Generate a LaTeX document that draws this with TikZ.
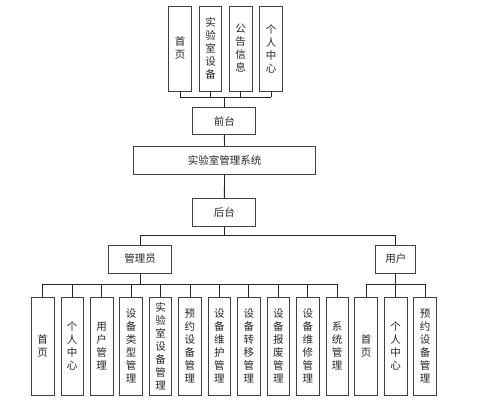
\documentclass[tikz,border=0pt]{standalone}
\usepackage{fontspec}
\setmainfont{Noto Sans CJK SC}
\begin{document}
\begin{tikzpicture}[x=1pt,y=-1pt,
  box/.style={draw=black!75,line width=0.7pt,inner sep=0pt,text=black!85,
    font=\fontsize{10.5}{13}\selectfont,align=center},
  topbox/.style={box,minimum width=22.5pt,minimum height=85pt},
  leafbox/.style={box,minimum width=22.5pt,minimum height=98pt},
  link/.style={draw=black!85,line width=0.8pt}]
  % page
  \path[use as bounding box,fill=white] (0,0) rectangle (499,404);

  % front end modules
  \foreach \x/\name/\txt in {180/f1/{首\\页},
    210.5/f2/{实\\验\\室\\设\\备},
    240.7/f3/{公\\告\\信\\息},
    271/f4/{个\\人\\中\\心}}
  {
    \node[topbox] (\name) at (\x,48.5) {\txt};
  }
  \node[box,minimum width=63pt,minimum height=27.5pt] (front) at (224.3,121) {前台};
  \node[box,minimum width=182pt,minimum height=27.5pt] (sys) at (224.5,160.3) {实验室管理系统};
  \node[box,minimum width=63pt,minimum height=28pt] (back) at (224.3,212.5) {后台};
  \node[box,minimum width=63pt,minimum height=28pt] (admin) at (140,259) {管理员};
  \node[box,minimum width=40pt,minimum height=28pt] (user) at (395.8,259) {用户};

  % admin modules
  \foreach \name/\txt [count=\i] in {a1/{首\\页},
    a2/{个\\人\\中\\心},
    a3/{用\\户\\管\\理},
    a4/{设\\备\\类\\型\\管\\理},
    a5/{实\\验\\室\\设\\备\\管\\理},
    a6/{预\\约\\设\\备\\管\\理},
    a7/{设\\备\\维\\护\\管\\理},
    a8/{设\\备\\转\\移\\管\\理},
    a9/{设\\备\\报\\废\\管\\理},
    a10/{设\\备\\维\\修\\管\\理},
    a11/{系\\统\\管\\理}}
  {
    \node[leafbox] (\name) at ({42.7+29.45*(\i-1)},346) {\txt};
  }

  % user modules
  \foreach \x/\name/\txt in {366/u1/{首\\页},
    395.7/u2/{个\\人\\中\\心},
    425/u3/{预\\约\\设\\备\\管\\理}}
  {
    \node[leafbox] (\name) at (\x,346) {\txt};
  }

  % buses
  \coordinate (fbus) at (0,97);
  \coordinate (mbus) at (0,235);
  \coordinate (abus) at (0,284);

  % connectors
  \foreach \n in {f1,f2,f3,f4}
    \draw[link] (\n.south) -- (\n.south |- fbus);
  \draw[link] (f1.south |- fbus) -- (f4.south |- fbus);
  \draw[link] (front.north) -- (front.north |- fbus);
  \draw[link] (front) -- (sys);
  \draw[link] (sys) -- (back);
  \draw[link] (back.south) -- (back.south |- mbus);
  \draw[link] (admin.north |- mbus) -- (user.north |- mbus);
  \draw[link] (admin.north) -- (admin.north |- mbus);
  \draw[link] (user.north) -- (user.north |- mbus);
  \foreach \n in {a1,a2,a3,a4,a5,a6,a7,a8,a9,a10,a11}
    \draw[link] (\n.north) -- (\n.north |- abus);
  \draw[link] (a1.north |- abus) -- (a11.north |- abus);
  \draw[link] (admin.south) -- (admin.south |- abus);
  \foreach \n in {u1,u2,u3}
    \draw[link] (\n.north) -- (\n.north |- abus);
  \draw[link] (u1.north |- abus) -- (u3.north |- abus);
  \draw[link] (user.south) -- (user.south |- abus);
\end{tikzpicture}
\end{document}
